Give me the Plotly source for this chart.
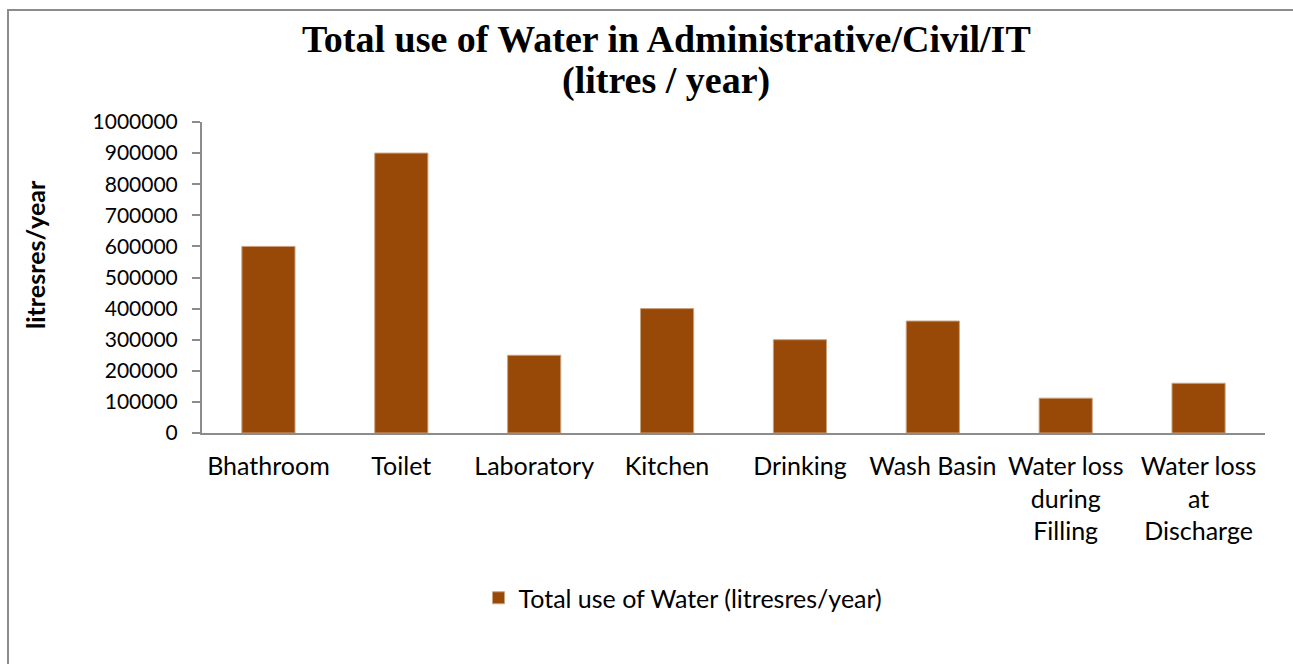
import plotly.graph_objects as go

categories = [
    "Bhathroom", "Toilet", "Laboratory", "Kitchen", "Drinking",
    "Wash Basin", "Water loss<br>during<br>Filling", "Water loss<br>at<br>Discharge",
]
water_use = [600000, 900000, 250000, 400000, 300000, 360000, 112000, 160000]
y_ticks = [0, 100000, 200000, 300000, 400000, 500000, 600000, 700000, 800000, 900000, 1000000]
series_name = "Total use of Water (litresres/year)"
title_lines = ["Total use of Water in Administrative/Civil/IT", "(litres / year)"]
y_title = "litresres/year"

BAR = "#984807"
AXIS = "#8c8c8c"
SANS = "Lato, Open Sans, sans-serif"
SERIF = "Liberation Serif, Times New Roman, serif"

W, H = 1293, 664
L, R, T, B = 202, 28, 122, 231
pw, ph = W - L - R, H - T - B


def py(pixel_y):
    """Convert a pixel row into paper y coordinates."""
    return (H - B - pixel_y) / ph


def px(pixel_x):
    """Convert a pixel column into paper x coordinates."""
    return (pixel_x - L) / pw


fig = go.Figure(
    go.Bar(
        x=categories,
        y=water_use,
        name=series_name,
        marker=dict(color=BAR, line=dict(color="#c9a27f", width=1)),
        showlegend=True,
    )
)

fig.update_layout(
    width=W,
    height=H,
    margin=dict(l=L, r=R, t=T, b=B, autoexpand=False),
    paper_bgcolor="white",
    plot_bgcolor="white",
    bargap=0.6,
    legend=dict(
        orientation="h",
        x=px(683),
        xanchor="center",
        y=py(598),
        yanchor="middle",
        font=dict(family=SANS, size=25, color="#000000"),
        itemwidth=30,
    ),
    showlegend=True,
)

# two-line chart title
for text, yc in zip(title_lines, [39, 80]):
    fig.add_annotation(
        text=f"<b>{text}</b>",
        xref="paper",
        yref="paper",
        x=px(666),
        y=py(yc),
        xanchor="center",
        yanchor="middle",
        showarrow=False,
        font=dict(family=SERIF, size=38, color="#000000"),
    )

fig.update_xaxes(
    showline=True,
    linecolor=AXIS,
    linewidth=2,
    ticks="",
    tickfont=dict(family=SANS, size=25, color="#000000"),
    ticklabelstandoff=10,
    showgrid=False,
    fixedrange=True,
)

fig.update_yaxes(
    range=[0, 1000000],
    tickvals=y_ticks,
    ticktext=[str(v) for v in y_ticks],
    showline=True,
    linecolor=AXIS,
    linewidth=2,
    ticks="outside",
    ticklen=8,
    tickwidth=2,
    tickcolor=AXIS,
    tickfont=dict(family=SANS, size=21, color="#000000"),
    ticklabelstandoff=10,
    showgrid=False,
    zeroline=False,
    fixedrange=True,
)

# y-axis title placed as a rotated annotation
fig.add_annotation(
    text=f"<b>{y_title}</b>",
    xref="paper",
    yref="paper",
    x=px(35),
    y=py(255),
    xanchor="center",
    yanchor="middle",
    textangle=-90,
    showarrow=False,
    font=dict(family=SANS, size=25, color="#000000"),
)

# chart area border
fig.add_shape(
    type="rect",
    xref="paper",
    yref="paper",
    x0=px(8),
    x1=px(1320),
    y0=py(700),
    y1=py(10),
    line=dict(color="#8c8c8c", width=2),
    fillcolor="rgba(0,0,0,0)",
    layer="below",
)

fig.write_html("out.html")
